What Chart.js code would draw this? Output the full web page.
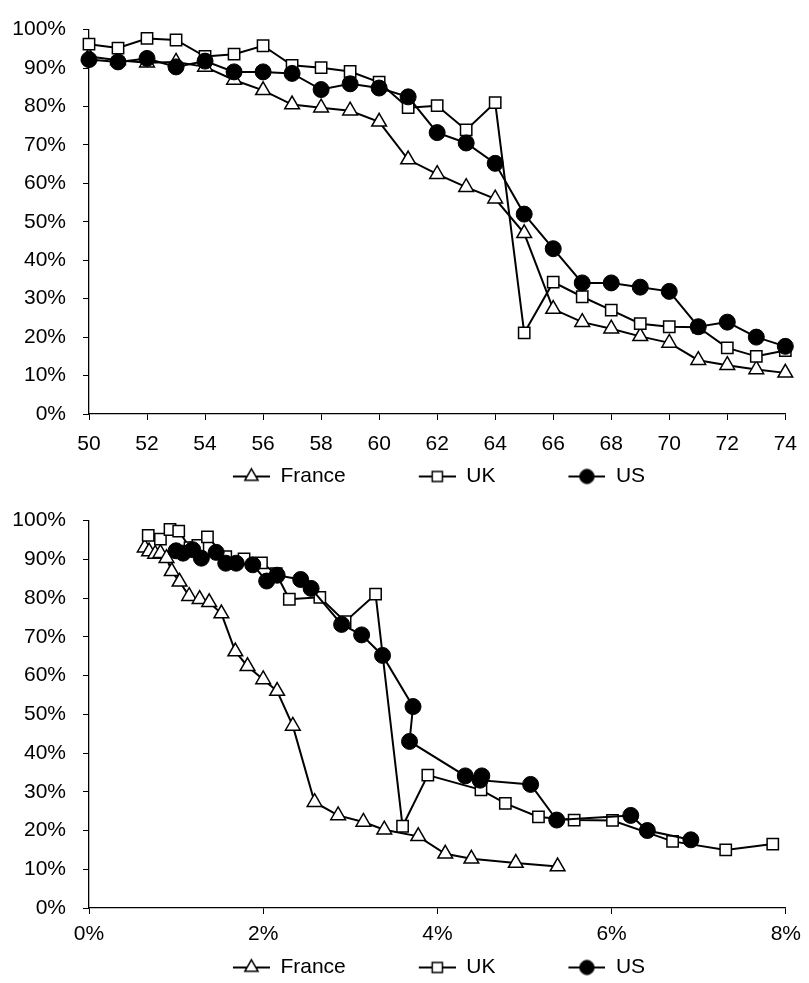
<!DOCTYPE html>
<html><head><meta charset="utf-8">
<script src="https://cdn.jsdelivr.net/npm/chart.js@4/dist/chart.umd.min.js"></script>
<style>
html,body{margin:0;padding:0;background:#fff;overflow:hidden;width:809px;height:983px;}
canvas{position:absolute;left:0;}
#c1{top:0;} #c2{top:491px;}
</style></head><body>
<canvas id="c1" width="809" height="497"></canvas>
<canvas id="c2" width="809" height="497"></canvas>
<script>
// ---- data ----
const seriesNames = ['France', 'UK', 'US'];
const ages = [50,51,52,53,54,55,56,57,58,59,60,61,62,63,64,65,66,67,68,69,70,71,72,73,74];
const franceRate = [93.0,92.0,91.4,91.6,90.3,86.9,84.2,80.5,79.7,78.9,76.0,66.2,62.4,59.0,56.0,47.0,27.3,23.9,22.2,20.2,18.5,14.0,12.7,11.6,10.7];
const ukRate     = [96.2,95.2,97.7,97.3,93.0,93.6,95.8,90.7,90.1,89.1,86.3,79.7,80.2,73.9,81.0,21.1,34.3,30.5,27.0,23.5,22.7,22.6,17.2,15.0,16.5];
const usRate     = [92.2,91.6,92.5,90.3,91.8,89.0,89.0,88.6,84.4,85.9,84.8,82.5,73.2,70.5,65.2,52.0,43.0,34.1,34.1,33.0,31.9,22.7,23.9,20.0,17.6];
// bottom panel x positions (%)
const franceX = [0.64,0.69,0.76,0.82,0.89,0.95,1.04,1.15,1.27,1.38,1.52,1.68,1.82,2.00,2.16,2.34,2.59,2.86,3.15,3.39,3.78,4.09,4.39,4.90,5.38];
const ukX     = [0.68,0.82,0.93,1.03,1.16,1.25,1.36,1.57,1.78,1.98,2.15,2.30,2.65,2.94,3.29,3.60,3.89,4.50,4.78,5.16,5.57,6.01,6.70,7.31,7.85];
const usX     = [1.00,1.08,1.19,1.29,1.46,1.57,1.69,1.88,2.04,2.16,2.43,2.55,2.90,3.13,3.37,3.72,3.68,4.32,4.51,4.49,5.07,5.37,6.22,6.41,6.91];
const topXTicks = {min:50, max:74, step:2};
const botXTicks = {min:0, max:8, step:2};
const yTicks = {min:0, max:100, step:10};

// ---- styling ----
Chart.defaults.font.family = "'Liberation Sans', Arial, sans-serif";
Chart.defaults.font.size = 21;
Chart.defaults.color = '#000';

const styles = [
  {pointStyle:'triangle', radius:8.5, bg:'#fff', bw:1.5},
  {pointStyle:'rect', radius:8, bg:'#fff', bw:1.5},
  {pointStyle:'circle', radius:8, bg:'#000', bw:1}
];

function legendImg(st){
  const W=106,H=22;
  const c=document.createElement('canvas'); c.width=W; c.height=H;
  const g=c.getContext('2d');
  g.strokeStyle='#000'; g.lineWidth=2;
  g.beginPath(); g.moveTo(W-37,H/2); g.lineTo(W,H/2); g.stroke();
  g.fillStyle=st.bg; g.strokeStyle='#000'; g.lineWidth=st.bw;
  Chart.helpers.drawPoint(g,{pointStyle:st.pointStyle,radius:st.radius*0.9,borderWidth:st.bw,rotation:0},W-18.5,H/2);
  return c;
}
const legendImgs = styles.map(legendImg);

// shift the centred legend to the right (y-axis occupies the left edge)
const legendShift = {id:'legendShift', afterLayout(chart){ if(chart.legend){ chart.legend.left += 20; } }};

function makeDatasets(xArrs){
  const ys=[franceRate,ukRate,usRate];
  return seriesNames.map((name,i)=>({
    label:name,
    data: ys[i].map((y,k)=>({x: xArrs? xArrs[i][k] : ages[k], y})),
    borderColor:'#000', borderWidth:2, tension:0,
    pointStyle:styles[i].pointStyle, pointRadius:styles[i].radius,
    pointBackgroundColor:styles[i].bg, pointBorderColor:'#000', pointBorderWidth:styles[i].bw,
    order:3-i, clip:false, fill:false
  }));
}

function makeOptions(xt, xFmt, xPad, xH, topPad){
  return {
    responsive:false, animation:false, events:[],
    layout:{padding:{left:0,right:20,top:topPad,bottom:0}},
    plugins:{
      tooltip:{enabled:false},
      legend:{position:'bottom', labels:{
        usePointStyle:true, pointStyleWidth:106, padding:4, color:'#000', font:{size:21},
        generateLabels:(chart)=>Chart.defaults.plugins.legend.labels.generateLabels(chart).map(it=>{it.pointStyle=legendImgs[it.datasetIndex]; return it;}),
        sort:(a,b)=>a.datasetIndex-b.datasetIndex
      }}
    },
    scales:{
      x:{type:'linear', min:xt.min, max:xt.max,
        ticks:{stepSize:xt.step, padding:xPad, color:'#000', maxRotation:0, autoSkip:false, callback:xFmt},
        grid:{drawOnChartArea:false, drawTicks:true, tickLength:6, color:'#000', lineWidth:1},
        border:{display:true, color:'#000', width:1.3},
        afterFit:(s)=>{s.height=xH;}
      },
      y:{type:'linear', min:yTicks.min, max:yTicks.max,
        ticks:{stepSize:yTicks.step, padding:17, color:'#000', callback:(v)=>v+'%'},
        grid:{drawOnChartArea:false, drawTicks:true, tickLength:6, color:'#000', lineWidth:1},
        border:{display:true, color:'#000', width:1.3},
        afterFit:(s)=>{s.width=89;}
      }
    }
  };
}

new Chart(document.getElementById('c1'), {
  type:'line',
  data:{datasets:makeDatasets(null)},
  options:makeOptions(topXTicks, (v)=>String(v), 12, 48, 22),
  plugins:[legendShift]
});
new Chart(document.getElementById('c2'), {
  type:'line',
  data:{datasets:makeDatasets([franceX,ukX,usX])},
  options:makeOptions(botXTicks, (v)=>v+'%', 8, 45, 26),
  plugins:[legendShift]
});
</script>
</body></html>
